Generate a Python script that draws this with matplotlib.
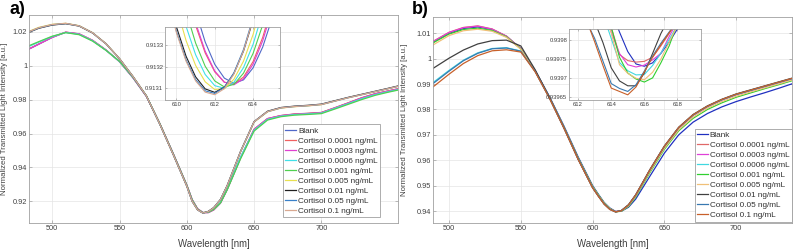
import matplotlib
matplotlib.use("Agg")
import matplotlib.pyplot as plt

plt.rcParams['font.family'] = ['Liberation Sans', 'DejaVu Sans']

# ---------------- data ----------------
labels = ["Blank", "Cortisol 0.0001 ng/mL", "Cortisol 0.0003 ng/mL",
          "Cortisol 0.0006 ng/mL", "Cortisol 0.001 ng/mL", "Cortisol 0.005 ng/mL",
          "Cortisol 0.01 ng/mL", "Cortisol 0.05 ng/mL", "Cortisol 0.1 ng/mL"]

colors_a = ['#5068c8', '#f06060', '#e040d0', '#40e0e8', '#50d050',
            '#e8e050', '#202020', '#3a80c8', '#d8a890']
colors_b = ['#2030c0', '#e06868', '#e040d8', '#40d8e0', '#30d030',
            '#f0c078', '#404040', '#3878b0', '#c8602a']

wl = [480, 490, 500, 510, 520, 530, 540, 550, 560, 570, 580, 590, 600, 604, 608,
      612, 616, 620, 625, 630, 640, 650, 660, 670, 680, 690, 700, 710, 720, 730,
      740, 750, 760]

# panel a
blank_a = [1.0088, 1.0128, 1.0168, 1.0198, 1.0188, 1.0150, 1.0093, 1.0025, 0.9930, 0.9820, 0.9658, 0.9480, 0.9296, 0.9210, 0.9156, 0.9134, 0.9134, 0.9150, 0.9190, 0.9270, 0.9458, 0.9625, 0.9688, 0.9706, 0.9715, 0.9719, 0.9724, 0.9752, 0.9781, 0.9811, 0.9835, 0.9852, 0.9869]
c0001_a = [1.0090, 1.0129, 1.0169, 1.0199, 1.0189, 1.0151, 1.0094, 1.0025, 0.9930, 0.9820, 0.9658, 0.9480, 0.9296, 0.9210, 0.9156, 0.9134, 0.9134, 0.9150, 0.9191, 0.9271, 0.9459, 0.9626, 0.9689, 0.9707, 0.9716, 0.9720, 0.9725, 0.9753, 0.9782, 0.9812, 0.9836, 0.9853, 0.9870]
c0003_a = [1.0089, 1.0128, 1.0168, 1.0199, 1.0189, 1.0150, 1.0093, 1.0025, 0.9930, 0.9820, 0.9658, 0.9480, 0.9296, 0.9210, 0.9156, 0.9134, 0.9134, 0.9150, 0.9190, 0.9270, 0.9458, 0.9624, 0.9688, 0.9706, 0.9714, 0.9718, 0.9723, 0.9751, 0.9780, 0.9810, 0.9834, 0.9851, 0.9868]
c0006_a = [1.0105, 1.0140, 1.0173, 1.0197, 1.0186, 1.0148, 1.0092, 1.0026, 0.9932, 0.9822, 0.9657, 0.9478, 0.9294, 0.9207, 0.9153, 0.9133, 0.9137, 0.9155, 0.9195, 0.9274, 0.9462, 0.9620, 0.9684, 0.9703, 0.9712, 0.9716, 0.9721, 0.9749, 0.9777, 0.9806, 0.9830, 0.9848, 0.9865]
c001_a = [1.0110, 1.0143, 1.0175, 1.0196, 1.0184, 1.0146, 1.0091, 1.0027, 0.9933, 0.9823, 0.9658, 0.9479, 0.9295, 0.9208, 0.9154, 0.9133, 0.9136, 0.9152, 0.9190, 0.9268, 0.9452, 0.9615, 0.9680, 0.9700, 0.9709, 0.9713, 0.9718, 0.9745, 0.9773, 0.9801, 0.9826, 0.9845, 0.9862]
c005_a = [1.0195, 1.0227, 1.0245, 1.0251, 1.0237, 1.0196, 1.0131, 1.0043, 0.9938, 0.9823, 0.9656, 0.9476, 0.9291, 0.9202, 0.9151, 0.9132, 0.9140, 0.9161, 0.9209, 0.9291, 0.9493, 0.9668, 0.9729, 0.9751, 0.9759, 0.9764, 0.9771, 0.9792, 0.9812, 0.9830, 0.9848, 0.9866, 0.9885]
c01_a = [1.0190, 1.0222, 1.0241, 1.0249, 1.0235, 1.0194, 1.0130, 1.0042, 0.9937, 0.9822, 0.9655, 0.9475, 0.9290, 0.9200, 0.9150, 0.9131, 0.9141, 0.9163, 0.9211, 0.9293, 0.9496, 0.9671, 0.9732, 0.9754, 0.9762, 0.9767, 0.9774, 0.9794, 0.9814, 0.9832, 0.9850, 0.9868, 0.9887]
c05_a = [1.0192, 1.0224, 1.0243, 1.0250, 1.0236, 1.0195, 1.0130, 1.0042, 0.9937, 0.9822, 0.9655, 0.9475, 0.9290, 0.9200, 0.9150, 0.9131, 0.9140, 0.9162, 0.9210, 0.9292, 0.9495, 0.9670, 0.9730, 0.9752, 0.9760, 0.9765, 0.9772, 0.9792, 0.9812, 0.9830, 0.9848, 0.9866, 0.9885]
c1_a = [1.0193, 1.0225, 1.0244, 1.0251, 1.0236, 1.0195, 1.0130, 1.0042, 0.9937, 0.9822, 0.9655, 0.9475, 0.9290, 0.9200, 0.9150, 0.9131, 0.9140, 0.9162, 0.9210, 0.9292, 0.9495, 0.9670, 0.9730, 0.9752, 0.9760, 0.9765, 0.9772, 0.9792, 0.9812, 0.9830, 0.9848, 0.9866, 0.9885]

# panel b
blank_b = [1.0033, 1.0069, 1.0100, 1.0119, 1.0125, 1.0115, 1.0088, 1.0040, 0.9953, 0.9850, 0.9735, 0.9612, 0.9500, 0.9466, 0.9434, 0.9412, 0.93985, 0.9399, 0.9415, 0.9447, 0.9538, 0.9628, 0.9700, 0.9750, 0.9784, 0.9810, 0.9831, 0.9849, 0.9866, 0.9884, 0.9903, 0.9918, 0.9932]
c0001_b = [1.0036, 1.0072, 1.0104, 1.0123, 1.0129, 1.0117, 1.0089, 1.0039, 0.9951, 0.9846, 0.9729, 0.9605, 0.9494, 0.9461, 0.9430, 0.9409, 0.93975, 0.9401, 0.9423, 0.9462, 0.9562, 0.9654, 0.9728, 0.9778, 0.9812, 0.9838, 0.9859, 0.9875, 0.9891, 0.9907, 0.9923, 0.9938, 0.9952]
c0003_b = [1.0035, 1.0071, 1.0103, 1.0122, 1.0128, 1.0116, 1.0088, 1.0039, 0.9951, 0.9846, 0.9729, 0.9605, 0.9494, 0.9461, 0.9430, 0.9409, 0.93974, 0.9401, 0.9422, 0.9461, 0.9561, 0.9653, 0.9727, 0.9777, 0.9811, 0.9837, 0.9858, 0.9874, 0.9890, 0.9906, 0.9922, 0.9937, 0.9951]
c0006_b = [0.9870, 0.9911, 0.9954, 0.9994, 1.0023, 1.0040, 1.0043, 1.0030, 0.9950, 0.9845, 0.9728, 0.9604, 0.9493, 0.9460, 0.9429, 0.9408, 0.93972, 0.9401, 0.9423, 0.9462, 0.9562, 0.9654, 0.9728, 0.9778, 0.9812, 0.9838, 0.9859, 0.9875, 0.9891, 0.9907, 0.9923, 0.9938, 0.9952]
c001_b = [1.0030, 1.0066, 1.0097, 1.0115, 1.0120, 1.0111, 1.0086, 1.0038, 0.9951, 0.9847, 0.9731, 0.9608, 0.9497, 0.9464, 0.9432, 0.9410, 0.93970, 0.9399, 0.9418, 0.9455, 0.9552, 0.9643, 0.9716, 0.9765, 0.9800, 0.9826, 0.9848, 0.9865, 0.9882, 0.9898, 0.9915, 0.9930, 0.9944]
c005_b = [1.0022, 1.0058, 1.0091, 1.0110, 1.0116, 1.0108, 1.0084, 1.0037, 0.9950, 0.9846, 0.9730, 0.9606, 0.9495, 0.9462, 0.9431, 0.9409, 0.93971, 0.9400, 0.9420, 0.9458, 0.9556, 0.9647, 0.9720, 0.9770, 0.9805, 0.9831, 0.9852, 0.9869, 0.9885, 0.9901, 0.9918, 0.9933, 0.9947]
c01_b = [0.9928, 0.9966, 1.0002, 1.0034, 1.0058, 1.0071, 1.0073, 1.0050, 0.9956, 0.9847, 0.9729, 0.9604, 0.9492, 0.9459, 0.9428, 0.9407, 0.93968, 0.9402, 0.9425, 0.9464, 0.9564, 0.9656, 0.9730, 0.9780, 0.9814, 0.9840, 0.9861, 0.9877, 0.9893, 0.9909, 0.9925, 0.9940, 0.9954]
c05_b = [0.9866, 0.9907, 0.9951, 0.9992, 1.0021, 1.0039, 1.0042, 1.0029, 0.9949, 0.9844, 0.9727, 0.9603, 0.9492, 0.9459, 0.9428, 0.9407, 0.93966, 0.9401, 0.9423, 0.9462, 0.9562, 0.9654, 0.9728, 0.9778, 0.9812, 0.9838, 0.9859, 0.9875, 0.9891, 0.9907, 0.9923, 0.9938, 0.9952]
c1_b = [0.9853, 0.9894, 0.9939, 0.9981, 1.0012, 1.0031, 1.0035, 1.0026, 0.9948, 0.9843, 0.9726, 0.9602, 0.9491, 0.9458, 0.9427, 0.9406, 0.93965, 0.9401, 0.9424, 0.9463, 0.9563, 0.9655, 0.9729, 0.9779, 0.9813, 0.9839, 0.9860, 0.9876, 0.9892, 0.9908, 0.9924, 0.9939, 0.9953]

# inset of panel a (around the dip minimum)
wl_ia = [609.5, 610, 610.5, 611, 611.5, 612, 612.5, 613, 613.5, 614, 614.5, 615, 615.5]
blank_ia = [0.914132, 0.913868, 0.913644, 0.913460, 0.913316, 0.913212, 0.913148, 0.913124, 0.913140, 0.913196, 0.913292, 0.913428, 0.913604]
c0001_ia = [0.914017, 0.913769, 0.913561, 0.913393, 0.913265, 0.913177, 0.913129, 0.913121, 0.913153, 0.913225, 0.913337, 0.913489, 0.913681]
c0003_ia = [0.914041, 0.913789, 0.913577, 0.913405, 0.913273, 0.913181, 0.913129, 0.913117, 0.913145, 0.913213, 0.913321, 0.913469, 0.913657]
c0006_ia = [0.913773, 0.913561, 0.913389, 0.913257, 0.913165, 0.913113, 0.913101, 0.913129, 0.913197, 0.913305, 0.913453, 0.913641, 0.913869]
c001_ia = [0.913875, 0.913647, 0.913459, 0.913311, 0.913203, 0.913135, 0.913107, 0.913119, 0.913171, 0.913263, 0.913395, 0.913567, 0.913779]
c005_ia = [0.913675, 0.913479, 0.913323, 0.913207, 0.913131, 0.913095, 0.913099, 0.913143, 0.913227, 0.913351, 0.913515, 0.913719, 0.913963]
c01_ia = [0.913562, 0.913386, 0.913250, 0.913154, 0.913098, 0.913082, 0.913106, 0.913170, 0.913274, 0.913418, 0.913602, 0.913826, 0.914090]
c05_ia = [0.913537, 0.913365, 0.913233, 0.913141, 0.913089, 0.913077, 0.913105, 0.913173, 0.913281, 0.913429, 0.913617, 0.913845, 0.914113]
c1_ia = [0.913531, 0.913359, 0.913227, 0.913135, 0.913083, 0.913071, 0.913099, 0.913167, 0.913275, 0.913423, 0.913611, 0.913839, 0.914107]

# inset of panel b
wl_ib = [612.5, 613, 613.5, 614, 614.5, 615, 615.5, 616, 616.5, 617, 617.5, 618, 618.5]
blank_ib = [0.940030, 0.939980, 0.939930, 0.939880, 0.939822, 0.939770, 0.939737, 0.939731, 0.939740, 0.939765, 0.939795, 0.939830, 0.939870]
c0001_ib = [0.939990, 0.939940, 0.939890, 0.939835, 0.939762, 0.939746, 0.939742, 0.939744, 0.939755, 0.939785, 0.939818, 0.939855, 0.939890]
c0003_ib = [0.939980, 0.939930, 0.939880, 0.939822, 0.939765, 0.939735, 0.939729, 0.939734, 0.939748, 0.939765, 0.939810, 0.939850, 0.939890]
c0006_ib = [0.939970, 0.939920, 0.939870, 0.939805, 0.939741, 0.939719, 0.939708, 0.939709, 0.939733, 0.939766, 0.939802, 0.939840, 0.939880]
c001_ib = [0.939990, 0.939940, 0.939890, 0.939835, 0.939755, 0.939713, 0.939697, 0.939689, 0.939700, 0.939740, 0.939785, 0.939845, 0.939890]
c005_ib = [0.939980, 0.939930, 0.939880, 0.939820, 0.939735, 0.939712, 0.939699, 0.939695, 0.939715, 0.939750, 0.939795, 0.939840, 0.939880]
c01_ib = [0.939895, 0.939850, 0.939794, 0.939727, 0.939692, 0.939679, 0.939679, 0.939713, 0.939765, 0.939818, 0.939860, 0.939900, 0.939940]
c05_ib = [0.939850, 0.939805, 0.939745, 0.939685, 0.939672, 0.939664, 0.939682, 0.939718, 0.939758, 0.939792, 0.939822, 0.939852, 0.939880]
c1_ib = [0.939855, 0.939796, 0.939733, 0.939673, 0.939664, 0.939655, 0.939676, 0.939716, 0.939755, 0.939788, 0.939820, 0.939850, 0.939880]

series_a = [blank_a, c0001_a, c0003_a, c0006_a, c001_a, c005_a, c01_a, c05_a, c1_a]
series_b = [blank_b, c0001_b, c0003_b, c0006_b, c001_b, c005_b, c01_b, c05_b, c1_b]
series_ia = [blank_ia, c0001_ia, c0003_ia, c0006_ia, c001_ia, c005_ia, c01_ia, c05_ia, c1_ia]
series_ib = [blank_ib, c0001_ib, c0003_ib, c0006_ib, c001_ib, c005_ib, c01_ib, c05_ib, c1_ib]

# ---------------- styling helpers ----------------
TXT = '#404040'
EDGE = '#a0a0a0'
GRID = '#e4e4e4'


def style_axes(ax, tick_size):
    for s in ax.spines.values():
        s.set_color(EDGE)
        s.set_linewidth(0.6)
    ax.tick_params(direction='in', length=2, width=0.5, color=EDGE,
                   labelsize=tick_size, labelcolor=TXT, pad=1.5,
                   top=True, right=True)
    ax.grid(True, color=GRID, linewidth=0.5)
    ax.set_axisbelow(True)


def draw_panel(ax, series, colors, xlim, ylim, yticks, ylabels, ylab_x, leg_anchor):
    for vals, col, lab in zip(series, colors, labels):
        ax.plot(wl, vals, color=col, lw=0.9, label=lab)
    ax.set_xlim(*xlim)
    ax.set_ylim(*ylim)
    ax.set_xticks([500, 550, 600, 650, 700])
    ax.set_yticks(yticks)
    ax.set_yticklabels(ylabels)
    style_axes(ax, 5.3)
    ax.set_xlabel('Wavelength [nm]', fontsize=6.9, color=TXT)
    ax.xaxis.set_label_coords(0.5, -0.08)
    ax.set_ylabel('Normalized Transmitted Light Intensity [a.u.]', fontsize=5.6, color=TXT)
    ax.yaxis.set_label_coords(ylab_x, 0.5)
    leg = ax.legend(loc='lower right', bbox_to_anchor=leg_anchor, fontsize=5.9,
                    labelspacing=0.28, handlelength=1.3, handletextpad=0.25,
                    borderpad=0.3, borderaxespad=0, fancybox=False, framealpha=1)
    leg.get_frame().set_edgecolor(EDGE)
    leg.get_frame().set_linewidth(0.6)
    for t in leg.get_texts():
        t.set_color('#303030')


def draw_inset(ax, xs, series, colors, xlim, ylim, xticks, yticks, ylabels):
    for vals, col in zip(series, colors):
        ax.plot(xs, vals, color=col, lw=0.8)
    ax.set_xlim(*xlim)
    ax.set_ylim(*ylim)
    ax.set_xticks(xticks)
    ax.set_yticks(yticks)
    ax.set_yticklabels(ylabels)
    style_axes(ax, 4.2)
    ax.tick_params(length=1.5, pad=1.2)


fig = plt.figure(figsize=(7.93, 2.49), dpi=100)

ax_a = fig.add_axes([0.037, 0.1056, 0.465, 0.834])
draw_panel(ax_a, series_a, colors_a, (483, 757), (0.9074, 1.0300),
           [0.92, 0.94, 0.96, 0.98, 1.0, 1.02],
           ['0.92', '0.94', '0.96', '0.98', '1', '1.02'], -0.058, (0.951, 0.026))

ax_b = fig.add_axes([0.5464, 0.1056, 0.4525, 0.825])
draw_panel(ax_b, series_b, colors_b, (489, 739), (0.9354, 1.0163),
           [0.94, 0.95, 0.96, 0.97, 0.98, 0.99, 1.0, 1.01],
           ['0.94', '0.95', '0.96', '0.97', '0.98', '0.99', '1', '1.01'], -0.0705, (0.999, 0.005))

in_a = fig.add_axes([0.208, 0.598, 0.145, 0.294])
draw_inset(in_a, wl_ia, series_ia, colors_a, (609.4, 615.4), (0.913046, 0.913386),
           [610, 612, 614], [0.9131, 0.9132, 0.9133], ['0.9131', '0.9132', '0.9133'])

in_b = fig.add_axes([0.7175, 0.598, 0.166, 0.284])
draw_inset(in_b, wl_ib, series_ib, colors_b, (611.45, 619.4), (0.939641, 0.939829),
           [612, 614, 616, 618], [0.93965, 0.9397, 0.93975, 0.9398],
           ['0.93965', '0.9397', '0.93975', '0.9398'])

fig.text(0.012, 0.995, 'a)', fontsize=13, fontweight='bold', va='top', ha='left')
fig.text(0.519, 0.995, 'b)', fontsize=13, fontweight='bold', va='top', ha='left')

fig.savefig('out.png', dpi=100)
